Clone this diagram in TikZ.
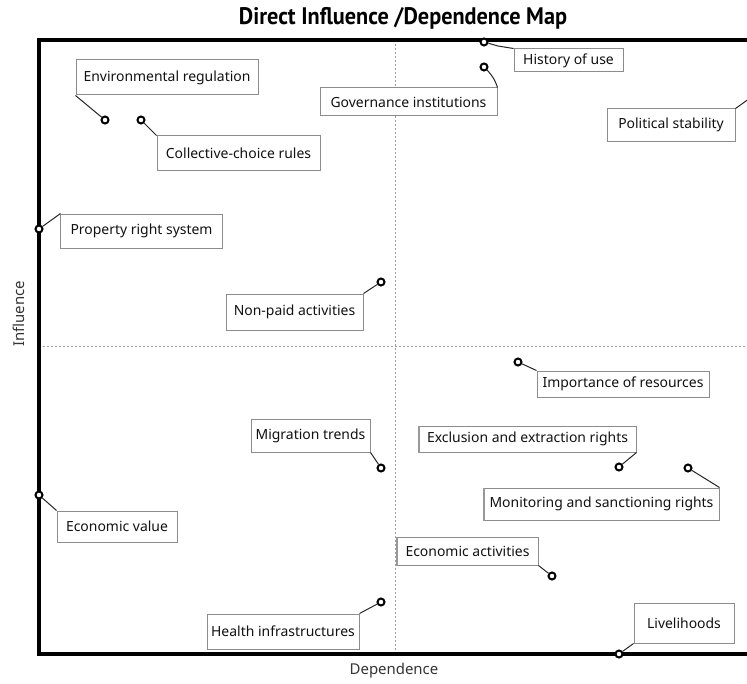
\documentclass[tikz,border=0pt]{standalone}
\usepackage{fontspec}
\setmainfont{Noto Sans}
\newfontfamily\titlefont{PT Sans}[FakeStretch=0.93]
\definecolor{boxgray}{HTML}{8C8C8C}
\definecolor{txt}{HTML}{111111}
\definecolor{gridgray}{HTML}{A0A0A0}
\begin{document}
\begin{tikzpicture}[x=1bp,y=-1bp,
  lbl/.style={draw=boxgray, line width=1bp, fill=white, text=txt,
    font=\fontsize{14}{16}\selectfont, inner sep=0pt, align=center},
  dot/.style={circle, draw=black, line width=2bp, fill=white,
    minimum size=7bp, inner sep=0pt},
  lead/.style={draw=black!85, line width=1bp},
  grid/.style={draw=gridgray, line width=0.8bp, dash pattern=on 2bp off 2bp},
  frame/.style={draw=black, line width=4bp},
  shade/.style={draw=gray!80, line width=2bp}]
\clip (0,0) rectangle (747,684);
\fill[white] (0,0) rectangle (747,684);
% title and axis labels
\node[font=\titlefont\bfseries\fontsize{24}{26}\selectfont, text=black] (title) at (403,18) {Direct Influence /Dependence Map};
\node[font=\fontsize{15}{17}\selectfont, text=txt!85, rotate=90] (yl) at (19,314) {Influence};
\node[font=\fontsize{15}{17}\selectfont, text=txt!85] (xl) at (394,671) {Dependence};
% grid
\draw[grid] (395,40) -- (395,654);
\draw[grid] (39,346) -- (760,346);
% frame
\draw[frame] (760,40) -- (39,40) -- (39,654) -- (760,654);
% boxes
\node[lbl, minimum width=182bp, minimum height=35bp] (er) at (167,77.5) {Environmental regulation};
\node[lbl, minimum width=163bp, minimum height=34bp] (cc) at (238.5,153) {Collective-choice rules};
\node[lbl, minimum width=161bp, minimum height=34bp] (pr) at (141.5,231) {Property right system};
\node[lbl, minimum width=177bp, minimum height=28bp] (gi) at (408.5,102) {Governance institutions};
\node[lbl, minimum width=109bp, minimum height=23bp] (hu) at (568.5,60.5) {History of use};
\node[lbl, minimum width=128bp, minimum height=32bp] (ps) at (671,125) {Political stability};
\node[lbl, minimum width=137bp, minimum height=36bp] (np) at (294.5,312) {Non-paid activities};
\node[lbl, minimum width=119bp, minimum height=33bp] (mt) at (310.5,435.5) {Migration trends};
\node[lbl, minimum width=120bp, minimum height=31bp] (ev) at (117,526.5) {Economic value};
\node[lbl, minimum width=152bp, minimum height=35bp] (hi) at (283,631.5) {Health infrastructures};
\node[lbl, minimum width=172bp, minimum height=26bp] (ir) at (623,384) {Importance of resources};
\node[lbl, minimum width=217bp, minimum height=26bp] (ex) at (527.5,439) {Exclusion and extraction rights};
\node[lbl, minimum width=235bp, minimum height=32bp] (ms) at (601.5,504) {Monitoring and sanctioning rights};
\node[lbl, minimum width=141bp, minimum height=28bp] (ea) at (467.5,551) {Economic activities};
\node[lbl, minimum width=100bp, minimum height=40bp] (lv) at (684,623) {Livelihoods};
% darker left edges
\draw[shade] (ex.north west) -- (ex.south west);
\draw[shade] (ms.north west) -- (ms.south west);
\draw[shade] (ea.north west) -- (ea.south west);
% dots
\node[dot] (d1) at (105,120) {};
\node[dot] (d2) at (141,120) {};
\node[dot] (d3) at (39,229) {};
\node[dot] (d4) at (484,67) {};
\node[dot] (d5) at (484,42) {};
\node[dot] (d7) at (381,282) {};
\node[dot] (d8) at (381,468) {};
\node[dot] (d9) at (39,495) {};
\node[dot] (d10) at (381,602) {};
\node[dot] (d11) at (518,362) {};
\node[dot] (d12) at (619,467) {};
\node[dot] (d13) at (688,468) {};
\node[dot] (d14) at (552,576) {};
\node[dot] (d15) at (619,654) {};
\coordinate (d6) at (753,96);
% leaders
\draw[lead] (er.south west) -- (d1);
\draw[lead] (d2) -- (cc.north west);
\draw[lead] (d3) -- (pr.north west);
\draw[lead] (d4) to[bend left=12] (gi.north east);
\draw[lead] (d5) -- ++(14,4) -- (hu.north west);
\draw[lead] (ps.north east) -- (d6);
\draw[lead] (np.north east) -- (d7);
\draw[lead] (mt.south east) -- (d8);
\draw[lead] (d9) -- (ev.north west);
\draw[lead] (hi.north east) -- (d10);
\draw[lead] (d11) -- (ir.north west);
\draw[lead] (ex.south east) -- (d12);
\draw[lead] (d13) -- (ms.north east);
\draw[lead] (ea.south east) -- (d14);
\draw[lead] (lv.south west) -- (d15);
\end{tikzpicture}
\end{document}
